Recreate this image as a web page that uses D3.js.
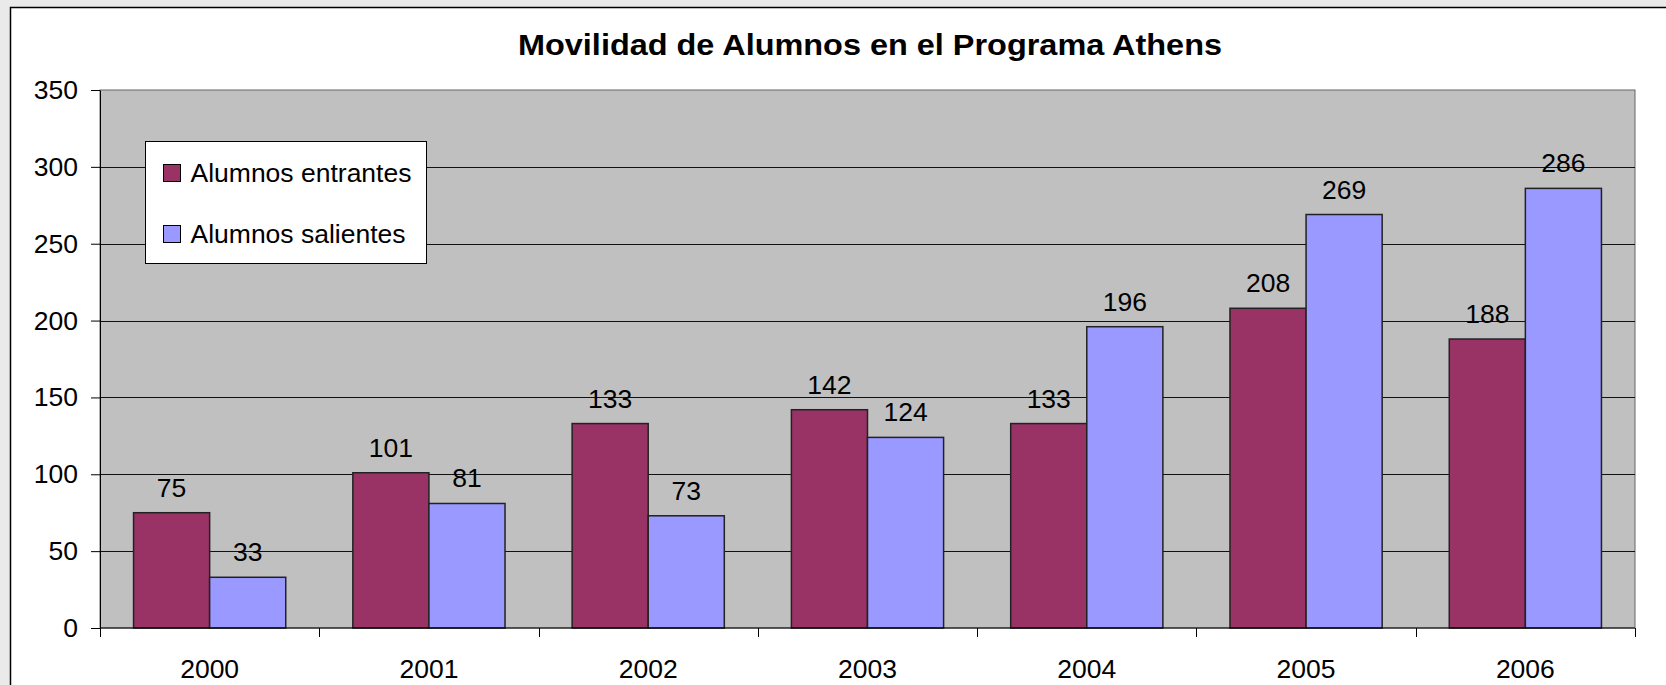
<!DOCTYPE html>
<html>
<head>
<meta charset="utf-8">
<script src="https://cdn.jsdelivr.net/npm/d3@7"></script>
<style>
  html, body { margin: 0; padding: 0; background: #eaeaea; }
  svg { display: block; font-family: "Liberation Sans", Arial, sans-serif; }
</style>
</head>
<body>
<div id="chart"></div>
<script>
const years = ['2000', '2001', '2002', '2003', '2004', '2005', '2006'];
const seriesNames = ['Alumnos entrantes', 'Alumnos salientes'];
const entrantes = [75, 101, 133, 142, 133, 208, 188];
const salientes = [33, 81, 73, 124, 196, 269, 286];
const yTicks = [0, 50, 100, 150, 200, 250, 300, 350];
const title = 'Movilidad de Alumnos en el Programa Athens';

const width = 1666, height = 685;
const margin = {top: 90, right: 31, bottom: 57, left: 100};
const colors = ['#993366', '#9999ff'];
const fontSize = '26.5px';

const svg = d3.select('#chart')
    .append('svg')
    .attr('width', width)
    .attr('height', height);

// Chart area (white, black border)
svg.append('rect')
    .attr('x', 10.5).attr('y', 7.5)
    .attr('width', width).attr('height', height)
    .attr('fill', '#fff')
    .attr('stroke', '#000')
    .attr('stroke-width', 1.5);

const x0 = d3.scaleBand()
    .domain(years)
    .range([margin.left, width - margin.right]);

const x1 = d3.scaleBand()
    .domain(seriesNames)
    .range([x0.bandwidth() * 0.153, x0.bandwidth() * 0.847]);

const y = d3.scaleLinear()
    .domain([0, 350])
    .range([height - margin.bottom, margin.top]);

// Plot background
svg.append('rect')
    .attr('x', margin.left).attr('y', margin.top)
    .attr('width', width - margin.left - margin.right)
    .attr('height', height - margin.top - margin.bottom)
    .attr('fill', '#c0c0c0')
    .attr('stroke', '#666')
    .attr('stroke-width', 1);

// Grid lines
svg.append('g')
    .selectAll('line')
    .data(yTicks.filter(d => d > 0 && d < 350))
    .enter()
    .append('line')
    .attr('x1', margin.left)
    .attr('x2', width - margin.right)
    .attr('y1', d => Math.round(y(d)) + 0.5)
    .attr('y2', d => Math.round(y(d)) + 0.5)
    .attr('stroke', '#111')
    .attr('stroke-width', 1);

// Bars
const groups = svg.append('g')
    .selectAll('g')
    .data(years.map((yr, i) => ({year: yr, values: [entrantes[i], salientes[i]]})))
    .enter()
    .append('g')
    .attr('transform', d => `translate(${x0(d.year)},0)`);

groups.selectAll('rect')
    .data(d => d.values.map((v, j) => ({name: seriesNames[j], value: v, j})))
    .enter()
    .append('rect')
    .attr('x', d => x1(d.name))
    .attr('y', d => y(d.value))
    .attr('width', x1.bandwidth())
    .attr('height', d => y(0) - y(d.value))
    .attr('fill', d => colors[d.j])
    .attr('stroke', '#222')
    .attr('stroke-width', 1.5);

groups.selectAll('text')
    .data(d => d.values.map((v, j) => ({name: seriesNames[j], value: v})))
    .enter()
    .append('text')
    .attr('x', d => x1(d.name) + x1.bandwidth() / 2)
    .attr('y', d => y(d.value) - 16)
    .attr('text-anchor', 'middle')
    .attr('font-size', fontSize)
    .attr('fill', '#000')
    .text(d => d.value);

// Y axis
svg.append('g')
    .attr('transform', `translate(${margin.left},0)`)
    .call(d3.axisLeft(y).tickValues(yTicks).tickSize(9).tickPadding(13).tickSizeOuter(0))
    .call(g => g.select('.domain').attr('stroke', '#000'))
    .call(g => g.selectAll('line').attr('stroke', '#000'))
    .call(g => g.selectAll('text').attr('font-size', fontSize).attr('fill', '#000')
        .attr('font-family', '"Liberation Sans", Arial, sans-serif'));

// X axis: line + ticks at category boundaries
const xAxis = svg.append('g');
xAxis.append('line')
    .attr('x1', margin.left).attr('x2', width - margin.right)
    .attr('y1', y(0)).attr('y2', y(0))
    .attr('stroke', '#000');
xAxis.selectAll('line.tick')
    .data(years.map(yr => x0(yr)).concat([x0(years[years.length - 1]) + x0.bandwidth()]))
    .enter()
    .append('line')
    .attr('class', 'tick')
    .attr('x1', d => Math.round(d) + 0.5).attr('x2', d => Math.round(d) + 0.5)
    .attr('y1', y(0)).attr('y2', y(0) + 9)
    .attr('stroke', '#000');
xAxis.selectAll('text')
    .data(years)
    .enter()
    .append('text')
    .attr('x', d => x0(d) + x0.bandwidth() / 2)
    .attr('y', 678)
    .attr('text-anchor', 'middle')
    .attr('font-size', fontSize)
    .attr('fill', '#000')
    .text(d => d);

// Title
svg.append('text')
    .attr('x', 870)
    .attr('y', 55)
    .attr('text-anchor', 'middle')
    .attr('font-size', '30px')
    .attr('font-weight', 'bold')
    .attr('textLength', 704)
    .attr('lengthAdjust', 'spacingAndGlyphs')
    .text(title);

// Legend
const legend = svg.append('g').attr('transform', 'translate(145.5,141.5)');
legend.append('rect')
    .attr('width', 281).attr('height', 122)
    .attr('fill', '#fff')
    .attr('stroke', '#000')
    .attr('stroke-width', 1);
seriesNames.forEach((name, i) => {
    const item = legend.append('g').attr('transform', `translate(18,${23 + i * 61})`);
    item.append('rect')
        .attr('width', 17).attr('height', 17)
        .attr('fill', colors[i])
        .attr('stroke', '#000')
        .attr('stroke-width', 1);
    item.append('text')
        .attr('x', 27)
        .attr('y', 17)
        .attr('font-size', fontSize)
        .attr('fill', '#000')
        .text(name);
});
</script>
</body>
</html>
